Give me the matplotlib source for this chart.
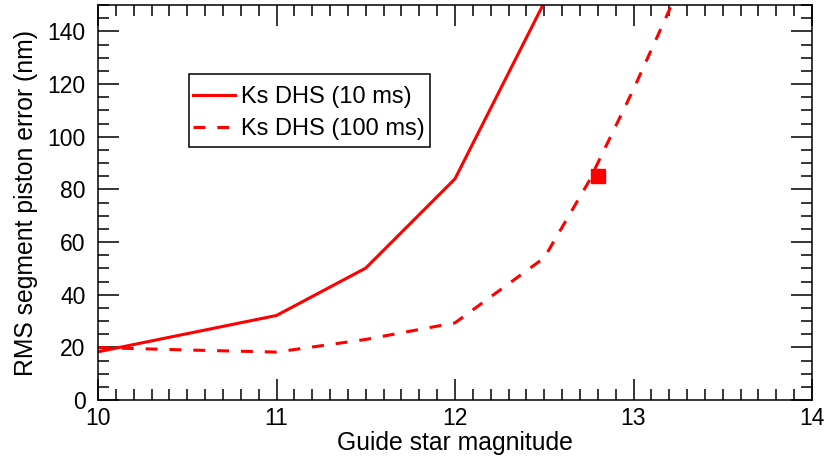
import matplotlib
matplotlib.use("Agg")
import matplotlib.pyplot as plt
from matplotlib.ticker import MultipleLocator
from matplotlib.patches import Rectangle

plt.rcParams['font.family'] = ['Liberation Sans', 'DejaVu Sans']

mag_10ms = [10.0, 11.0, 11.5, 12.0, 12.5]
err_10ms = [18.3, 32.1, 50.1, 84.0, 151.0]

mag_100ms = [10.0, 10.5, 11.0, 11.5, 12.0, 12.5, 12.75, 13.0, 13.5]
err_100ms = [19.9, 19.0, 18.2, 23.0, 29.3, 54.0, 83.0, 118.0, 193.0]

point_mag = [12.8]
point_err = [85.0]

W, H = 827, 457
AX_L, AX_R, AX_T, AX_B = 98, 812, 5, 400
fig = plt.figure(figsize=(W / 100, H / 100), dpi=100)
ax = fig.add_axes([AX_L / W, (H - AX_B) / H, (AX_R - AX_L) / W, (AX_B - AX_T) / H])
aw, ah = AX_R - AX_L, AX_B - AX_T

red = '#ff0000'
ax.plot(mag_10ms, err_10ms, color=red, lw=2.2, label='Ks DHS (10 ms)')
ax.plot(mag_100ms, err_100ms, color=red, lw=2.2, ls=(0, (3.9, 3.9)),
        label='Ks DHS (100 ms)')
ax.plot(point_mag, point_err, 's', color=red, ms=9.5, mec=red)

ax.set_xlim(10, 14)
ax.set_ylim(0, 150)
ax.xaxis.set_major_locator(MultipleLocator(1))
ax.xaxis.set_minor_locator(MultipleLocator(0.1))
ax.yaxis.set_major_locator(MultipleLocator(20))
ax.yaxis.set_minor_locator(MultipleLocator(5))
ax.tick_params(which='both', direction='in', top=True, right=True,
               width=1.1, labelsize=16.5)
ax.tick_params(which='major', length=15)
ax.tick_params(which='minor', length=8)
ax.tick_params(axis='x', which='major', pad=5)
ax.tick_params(axis='y', which='major', pad=9)
for s in ax.spines.values():
    s.set_linewidth(1.1)

ax.set_xlabel('Guide star magnitude', fontsize=17.8, labelpad=1)
ax.set_ylabel('RMS segment piston error (nm)', fontsize=17.8, labelpad=7)

leg = ax.legend(loc='upper left',
                bbox_to_anchor=((193 - AX_L) / aw, (AX_B - 86) / ah),
                fontsize=17, frameon=False,
                handlelength=1.78, handletextpad=0.25, borderpad=0,
                labelspacing=0.42, borderaxespad=0)

ax.add_patch(Rectangle(((189 - AX_L) / aw, (AX_B - 147) / ah),
                       241 / aw, 73 / ah, transform=ax.transAxes,
                       fill=False, edgecolor='black', lw=1.1, zorder=5))

fig.savefig('out.png', dpi=100)
